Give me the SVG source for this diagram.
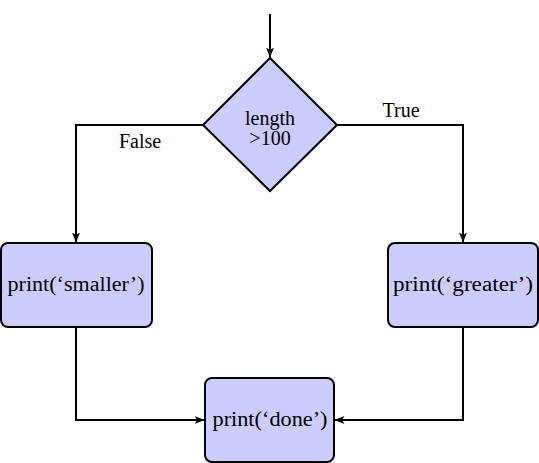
<svg xmlns="http://www.w3.org/2000/svg" width="539" height="463" viewBox="0 0 539 463">
<style>
.shape{fill:#ccccff;stroke:#000;stroke-width:2}
.conn{fill:none;stroke:#000;stroke-width:2}
.lbl{font-family:'Liberation Serif','Times New Roman',serif;font-size:20px;fill:#000;text-anchor:middle}
</style>
<defs>
<marker id="arr" viewBox="0 0 10 8" refX="9.5" refY="4" markerWidth="10" markerHeight="8" markerUnits="userSpaceOnUse" orient="auto">
<path d="M0,0 L10,4 L0,8 L2.5,4 Z" fill="#000"/>
</marker>
</defs>
<g id="connectors">
<path class="conn" d="M270,14 V57" marker-end="url(#arr)"/>
<path class="conn" d="M203,125 H76 V242" marker-end="url(#arr)"/>
<path class="conn" d="M337,125 H463 V242" marker-end="url(#arr)"/>
<path class="conn" d="M76,327 V420 H204" marker-end="url(#arr)"/>
<path class="conn" d="M463,327 V420 H335" marker-end="url(#arr)"/>
<text class="lbl" x="140" y="148">False</text>
<text class="lbl" x="401" y="117">True</text>
</g>
<g id="decision">
<polygon class="shape" points="270,58 337,125 270,191 203,125"/>
<text class="lbl" x="270" y="125">length</text>
<text class="lbl" x="270" y="145">&gt;100</text>
</g>
<g id="smaller">
<rect class="shape" x="1" y="243" width="151" height="84" rx="7"/>
<text class="lbl" x="76" y="291" textLength="137" lengthAdjust="spacingAndGlyphs">print(‘smaller’)</text>
</g>
<g id="greater">
<rect class="shape" x="388" y="243" width="150" height="84" rx="7"/>
<text class="lbl" x="463" y="291" textLength="140" lengthAdjust="spacingAndGlyphs">print(‘greater’)</text>
</g>
<g id="done">
<rect class="shape" x="205" y="378" width="129" height="84" rx="7"/>
<text class="lbl" x="270" y="426" textLength="115" lengthAdjust="spacingAndGlyphs">print(‘done’)</text>
</g>
</svg>
